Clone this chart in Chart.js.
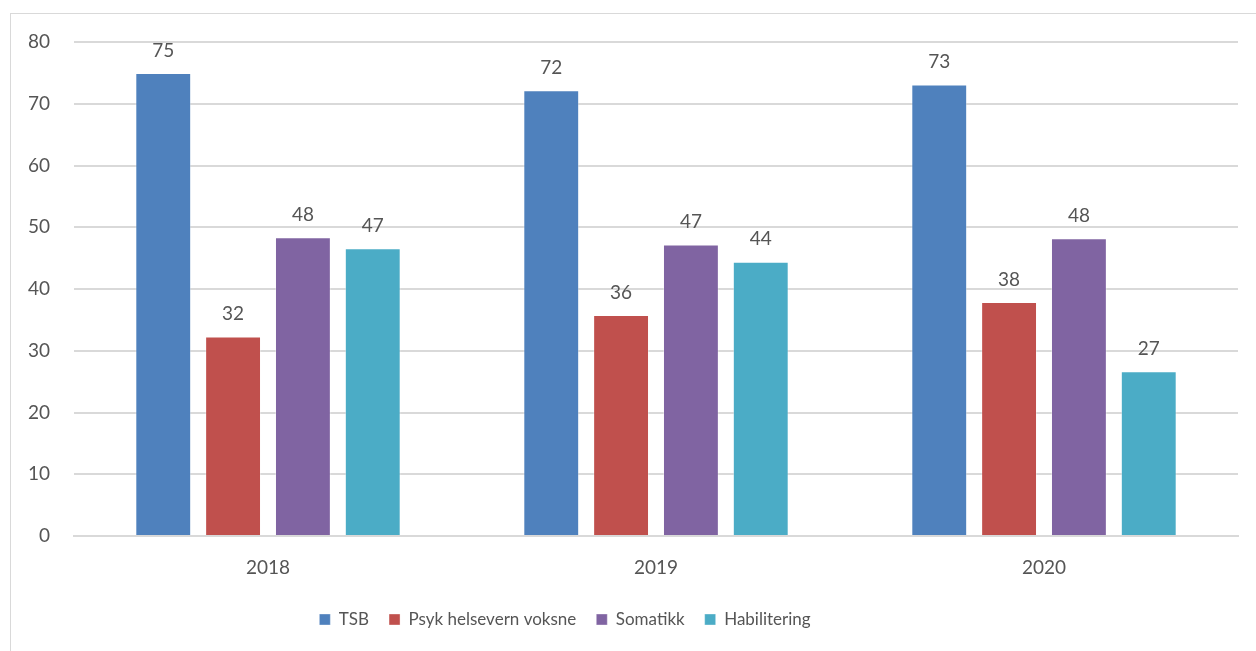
<!DOCTYPE html>
<html>
<head>
<meta charset="utf-8">
<script src="https://cdn.jsdelivr.net/npm/chart.js@4"></script>
<style>
  html, body { margin: 0; padding: 0; background: #fff; overflow: hidden; }
  #frame { position: absolute; left: 10px; top: 13px; width: 1300px; height: 700px; border: 1px solid #d9d9d9; }
  #wrap { position: absolute; left: 0; top: 0; width: 1256px; height: 651px; }
</style>
</head>
<body>
<div id="frame"></div>
<div id="wrap"><canvas id="chart"></canvas></div>
<script>
  // Years and series values
  const years = ["2018", "2019", "2020"];
  const tsb = [75.0, 72.2, 73.1];
  const psyk = [32.3, 35.8, 37.9];
  const somatikk = [48.4, 47.2, 48.2];
  const habilitering = [46.6, 44.4, 26.7];
  const yTicks = [0, 10, 20, 30, 40, 50, 60, 70, 80];

  const TEXT = "#555555";
  const FONT = "Lato, 'Open Sans', sans-serif";

  function ds(label, data, color) {
    return { label, data, backgroundColor: color, borderColor: "rgba(255,255,255,0.35)", borderWidth: 1,
             barPercentage: 0.8, categoryPercentage: 0.72 };
  }

  // simple value labels above each bar
  const valueLabels = {
    id: "valueLabels",
    afterDatasetsDraw(chart) {
      const ctx = chart.ctx;
      ctx.save();
      ctx.fillStyle = TEXT;
      ctx.font = "19px " + FONT;
      ctx.textAlign = "center";
      ctx.textBaseline = "bottom";
      chart.data.datasets.forEach((d, i) => {
        chart.getDatasetMeta(i).data.forEach((bar, j) => {
          ctx.fillText(Math.round(d.data[j]), bar.x, bar.y - 13);
        });
      });
      ctx.restore();
    },
  };

  // legend in the original sits a bit left of the canvas centre
  const legendShift = {
    id: "legendShift",
    afterLayout(chart) {
      if (!chart.legend) return;
      chart.legend.left -= 54;
      chart.legend.right -= 54;
    },
  };

  new Chart(document.getElementById("chart"), {
    type: "bar",
    data: {
      labels: years,
      datasets: [
        ds("TSB", tsb, "#4f81bd"),
        ds("Psyk helsevern voksne", psyk, "#c0504d"),
        ds("Somatikk", somatikk, "#8064a2"),
        ds("Habilitering", habilitering, "#4bacc6"),
      ],
    },
    options: {
      responsive: true, maintainAspectRatio: false, animation: false,
      layout: { padding: { left: 0, top: 42, right: 18, bottom: 13 } },
      plugins: {
        legend: {
          position: "bottom",
          labels: { boxWidth: 11, boxHeight: 11, padding: 20, color: TEXT, font: { family: FONT, size: 17 } },
        },
        tooltip: { enabled: false },
      },
      scales: {
        x: {
          grid: { display: false, drawTicks: false },
          border: { color: "#d9d9d9", width: 2 },
          ticks: { color: TEXT, padding: 20, font: { family: FONT, size: 19 } },
          afterFit(s) { s.height = 55; },
        },
        y: {
          min: 0, max: 80,
          afterBuildTicks(s) { s.ticks = yTicks.map((v) => ({ value: v })); },
          grid: { color: "#d9d9d9", lineWidth: 2, drawTicks: false },
          border: { display: false },
          ticks: { color: TEXT, padding: 24, font: { family: FONT, size: 19 } },
          afterFit(s) { s.width = 74; },
        },
      },
    },
    plugins: [valueLabels, legendShift],
  });
</script>
</body>
</html>
